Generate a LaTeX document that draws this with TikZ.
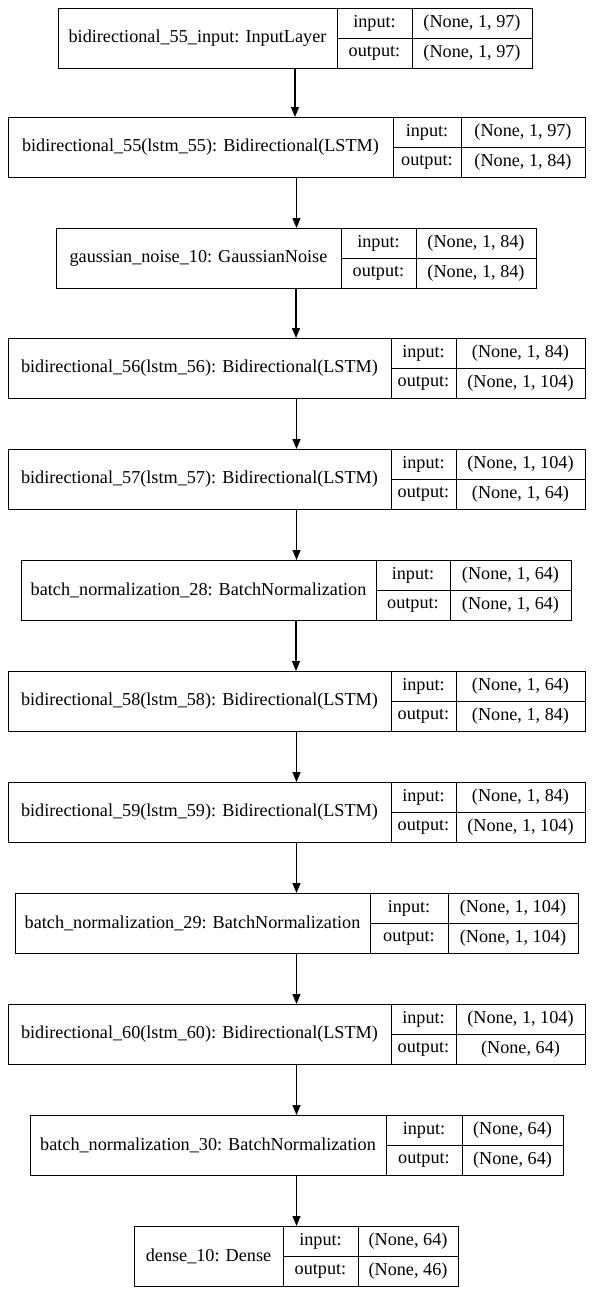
\documentclass[tikz,border=0pt]{standalone}
\usepackage{fontspec}
\setmainfont{Liberation Serif}
\usetikzlibrary{arrows.meta}
\tikzset{
  cell/.style={draw=black, line width=1pt, inner sep=0pt, outer sep=0pt, anchor=north west,
    font=\fontsize{18.2}{20}\selectfont},
  frame/.style={inner sep=0pt, outer sep=0pt, minimum height=60pt, anchor=north west},
  arr/.style={draw=black, line width=1.3pt, -{Triangle[length=10pt,width=8pt]}}
}
\newcommand\layer[9]{%
  \pgfmathsetmacro\wA{#4-#3}%
  \pgfmathsetmacro\wB{#5-#4}%
  \pgfmathsetmacro\wC{#6-#5}%
  \pgfmathsetmacro\wAll{#6-#3}%
  \node[frame, minimum width=\wAll pt] (#1) at (#3,#2) {};
  \node[cell, minimum width=\wA pt, minimum height=60pt] (#1-n) at (#3,#2) {#7};
  \node[cell, minimum width=\wB pt, minimum height=30pt] (#1-il) at (#4,#2) {input:};
  \node[cell, minimum width=\wC pt, minimum height=30pt] (#1-iv) at (#5,#2) {#8};
  \node[cell, minimum width=\wB pt, minimum height=30pt] (#1-ol) at (#4,#2+30) {output:};
  \node[cell, minimum width=\wC pt, minimum height=30pt] (#1-ov) at (#5,#2+30) {#9};
}
\begin{document}
\begin{tikzpicture}[x=1pt,y=-1pt]
\useasboundingbox[fill=white] (0,0) rectangle (592,1291);
\layer{L1}{8}{58}{337}{412}{532}{bidirectional\_55\_input: InputLayer}{(None, 1, 97)}{(None, 1, 97)}
\layer{L2}{117}{8}{393}{461}{585}{bidirectional\_55(lstm\_55): Bidirectional(LSTM)}{(None, 1, 97)}{(None, 1, 84)}
\layer{L3}{228}{56}{341}{416}{536}{gaussian\_noise\_10: GaussianNoise}{(None, 1, 84)}{(None, 1, 84)}
\layer{L4}{338}{8}{391}{456}{585}{bidirectional\_56(lstm\_56): Bidirectional(LSTM)}{(None, 1, 84)}{(None, 1, 104)}
\layer{L5}{449}{8}{391}{456}{585}{bidirectional\_57(lstm\_57): Bidirectional(LSTM)}{(None, 1, 104)}{(None, 1, 64)}
\layer{L6}{560}{21}{376}{450}{571}{batch\_normalization\_28: BatchNormalization}{(None, 1, 64)}{(None, 1, 64)}
\layer{L7}{671}{8}{391}{456}{585}{bidirectional\_58(lstm\_58): Bidirectional(LSTM)}{(None, 1, 64)}{(None, 1, 84)}
\layer{L8}{782}{8}{391}{456}{585}{bidirectional\_59(lstm\_59): Bidirectional(LSTM)}{(None, 1, 84)}{(None, 1, 104)}
\layer{L9}{893}{15}{370}{448}{578}{batch\_normalization\_29: BatchNormalization}{(None, 1, 104)}{(None, 1, 104)}
\layer{L10}{1004}{8}{391}{456}{585}{bidirectional\_60(lstm\_60): Bidirectional(LSTM)}{(None, 1, 104)}{(None, 64)}
\layer{L11}{1115}{30}{386}{462}{563}{batch\_normalization\_30: BatchNormalization}{(None, 64)}{(None, 64)}
\layer{L12}{1226}{134}{283}{358}{458}{dense\_10: Dense}{(None, 64)}{(None, 46)}
\foreach \a/\b in {L1/L2,L2/L3,L3/L4,L4/L5,L5/L6,L6/L7,L7/L8,L8/L9,L9/L10,L10/L11,L11/L12}
  \draw[arr] (\a.south) -- (\a.south |- \b.north);
\end{tikzpicture}
\end{document}
